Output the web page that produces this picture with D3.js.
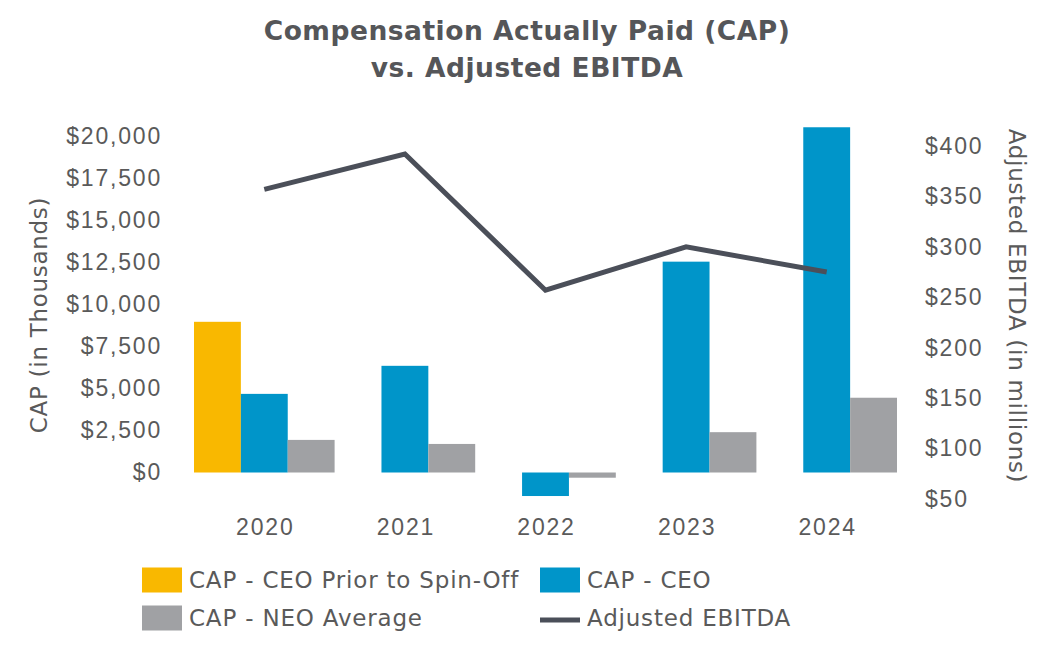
<!DOCTYPE html>
<html>
<head>
  <script src="https://d3js.org/d3.v7.min.js"></script>
  <style>
    body {
      margin: 0;
      background-color: #fff;
      font-family: "DejaVu Sans", sans-serif;
    }

    .tick text {
      fill: #5a5a5a;
      font-size: 23px;
      letter-spacing: 1.8px;
    }

    .axis-title {
      fill: #5a5a5a;
      font-size: 23px;
      letter-spacing: 0.7px;
    }

    .title {
      fill: #555659;
      font-size: 26.5px;
      font-weight: bold;
      letter-spacing: 0.5px;
    }

    .legend-label {
      fill: #5a5a5a;
      font-size: 23px;
      letter-spacing: 0.8px;
    }
  </style>
</head>
<body>
  <div id="chart"></div>
  <script>
    // Data
    const years = ["2020", "2021", "2022", "2023", "2024"];
    const capCeoPrior = [8970, null, null, null, null];
    const capCeo = [4680, 6350, -1400, 12550, 20550];
    const capNeoAvg = [1940, 1700, -310, 2400, 4450];
    const adjEbitda = [357, 392, 257, 300, 275];

    const leftTicks = [0, 2500, 5000, 7500, 10000, 12500, 15000, 17500, 20000];
    const rightTicks = [50, 100, 150, 200, 250, 300, 350, 400];

    const seriesKeys = ["prior", "ceo", "neo"];
    const seriesLabels = ["CAP - CEO Prior to Spin-Off", "CAP - CEO", "CAP - NEO Average"];
    const seriesValues = [capCeoPrior, capCeo, capNeoAvg];
    const colors = { prior: "#f9b800", ceo: "#0095c9", neo: "#a0a1a4", line: "#4b4f59" };

    const W = 1056, H = 652;

    const svg = d3.select("#chart")
      .append("svg")
      .attr("width", W)
      .attr("height", H);

    // Scales
    const x = d3.scaleBand()
      .domain(years)
      .range([194, 897])
      .padding(0);

    const xSub = d3.scaleBand()
      .domain(seriesKeys)
      .range([0, x.bandwidth()])
      .padding(0);

    const yLeft = d3.scaleLinear()
      .domain([0, 20000])
      .range([472.5, 136.5]);

    const yRight = d3.scaleLinear()
      .domain([50, 400])
      .range([499, 146]);

    // Title
    svg.append("text")
      .attr("class", "title")
      .attr("x", 527)
      .attr("y", 40)
      .attr("text-anchor", "middle")
      .text("Compensation Actually Paid (CAP)");

    svg.append("text")
      .attr("class", "title")
      .attr("x", 527)
      .attr("y", 77)
      .attr("text-anchor", "middle")
      .text("vs. Adjusted EBITDA");

    // Bars
    const fmt = d3.format(",");
    seriesKeys.forEach((key, i) => {
      const rows = years.map((yr, j) => ({ year: yr, value: seriesValues[i][j] }))
        .filter(d => d.value !== null);

      svg.append("g")
        .selectAll("rect")
        .data(rows)
        .join("rect")
        .attr("x", d => x(d.year) + xSub(key))
        .attr("width", xSub.bandwidth())
        .attr("y", d => yLeft(Math.max(0, d.value)))
        .attr("height", d => Math.abs(yLeft(d.value) - yLeft(0)))
        .attr("fill", colors[key]);
    });

    // EBITDA line
    const line = d3.line()
      .x((d, i) => x(years[i]) + x.bandwidth() / 2)
      .y(d => yRight(d));

    svg.append("path")
      .datum(adjEbitda)
      .attr("fill", "none")
      .attr("stroke", colors.line)
      .attr("stroke-width", 5)
      .attr("d", line);

    // Axes
    const leftAxis = svg.append("g")
      .attr("transform", "translate(162,0)")
      .call(d3.axisLeft(yLeft)
        .tickValues(leftTicks)
        .tickSize(0)
        .tickPadding(0)
        .tickFormat(d => "$" + fmt(d)));
    leftAxis.select(".domain").remove();

    const rightAxis = svg.append("g")
      .attr("transform", "translate(925,0)")
      .call(d3.axisRight(yRight)
        .tickValues(rightTicks)
        .tickSize(0)
        .tickPadding(0)
        .tickFormat(d => "$" + d));
    rightAxis.select(".domain").remove();

    const bottomAxis = svg.append("g")
      .attr("transform", "translate(1,519)")
      .call(d3.axisBottom(x)
        .tickSize(0)
        .tickPadding(0));
    bottomAxis.select(".domain").remove();

    // Axis titles
    svg.append("text")
      .attr("class", "axis-title")
      .attr("transform", "translate(47,315) rotate(-90)")
      .attr("text-anchor", "middle")
      .text("CAP (in Thousands)");

    svg.append("text")
      .attr("class", "axis-title")
      .attr("transform", "translate(1009,306) rotate(90)")
      .attr("text-anchor", "middle")
      .text("Adjusted EBITDA (in millions)");

    // Legend
    const legendItems = [
      { label: seriesLabels[0], type: "rect", color: colors.prior, x: 142, y: 580 },
      { label: seriesLabels[1], type: "rect", color: colors.ceo, x: 540, y: 580 },
      { label: seriesLabels[2], type: "rect", color: colors.neo, x: 142, y: 618 },
      { label: "Adjusted EBITDA", type: "line", color: colors.line, x: 540, y: 618 }
    ];

    const legend = svg.append("g")
      .selectAll("g")
      .data(legendItems)
      .join("g")
      .attr("transform", d => `translate(${d.x},${d.y})`);

    legend.filter(d => d.type === "rect")
      .append("rect")
      .attr("x", 0)
      .attr("y", -12.5)
      .attr("width", 40)
      .attr("height", 25)
      .attr("fill", d => d.color);

    legend.filter(d => d.type === "line")
      .append("line")
      .attr("x1", 0)
      .attr("x2", 40)
      .attr("y1", 2)
      .attr("y2", 2)
      .attr("stroke", d => d.color)
      .attr("stroke-width", 5);

    legend.append("text")
      .attr("class", "legend-label")
      .attr("x", 47)
      .attr("y", 0)
      .attr("dy", "0.36em")
      .text(d => d.label);
  </script>
</body>
</html>
